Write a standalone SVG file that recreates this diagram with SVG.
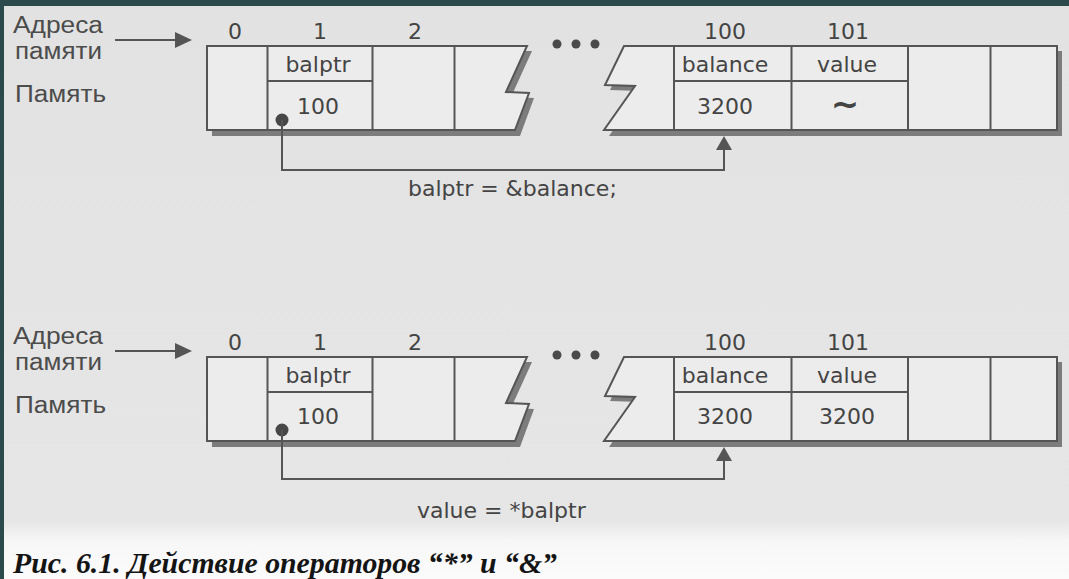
<svg xmlns="http://www.w3.org/2000/svg" width="1069" height="579" viewBox="0 0 1069 579">
  <defs>
    <linearGradient id="pageGrad" x1="0" y1="0" x2="0" y2="1">
      <stop offset="0" stop-color="#e2e2e2"/>
      <stop offset="0.9" stop-color="#e6e6e6"/>
      <stop offset="0.935" stop-color="#f7f7f7"/>
      <stop offset="1" stop-color="#fbfbfb"/>
    </linearGradient>
    <style>
      .lbl { font-family: "Liberation Sans", Arial, sans-serif; font-size: 23px; fill: #4c4c4c; }
      .txt { font-family: "DejaVu Sans", "Open Sans", sans-serif; font-size: 22px; fill: #444444; text-anchor: middle; }
      .expr { font-family: "DejaVu Sans", "Open Sans", sans-serif; font-size: 22px; fill: #444444; }
      .cap { font-family: "Liberation Serif", "Times New Roman", serif; font-size: 29px; font-weight: bold; font-style: italic; fill: #141414; }
      .box { fill: #ececec; stroke: #555555; stroke-width: 2; stroke-linejoin: miter; }
      .div { stroke: #555555; stroke-width: 2; fill: none; }
      .conn { stroke: #555555; stroke-width: 2; fill: none; }
      .head { fill: #555555; }
      .dot { fill: #474747; }
      .dots { fill: #4a4a4a; }
    </style>
  </defs>

  <!-- page background -->
  <rect x="0" y="0" width="1069" height="579" fill="url(#pageGrad)"/>
  <rect x="0" y="0" width="1069" height="6" fill="#2c4a4b"/>
  <rect x="0" y="0" width="4" height="579" fill="#2c4a4b"/>

  <!-- ===================== Diagram 1 ===================== -->
  <g id="labels-1">
    <text class="lbl" x="13" y="33" textLength="90" lengthAdjust="spacingAndGlyphs">Адреса</text>
    <text class="lbl" x="15" y="59" textLength="87" lengthAdjust="spacingAndGlyphs">памяти</text>
    <text class="lbl" x="15" y="102" textLength="91" lengthAdjust="spacingAndGlyphs">Память</text>
  </g>

  <g id="addresses-1">
    <text class="txt" x="235" y="39">0</text>
    <text class="txt" x="320" y="39">1</text>
    <text class="txt" x="415" y="39">2</text>
    <text class="txt" x="725" y="39">100</text>
    <text class="txt" x="848" y="39">101</text>
  </g>

  <g id="memory-1-left">
    <path fill="#7c7c7c" d="M212,51 H532 L511,97 L534,98 L520,136 H212 Z"/>
    <path class="box" d="M207,46 H527 L506,92 L529,93 L515,130 H207 Z"/>
    <line class="div" x1="267.5" y1="46" x2="267.5" y2="130"/>
    <line class="div" x1="372.5" y1="46" x2="372.5" y2="130"/>
    <line class="div" x1="454.5" y1="46" x2="454.5" y2="130"/>
  </g>
  <g id="cell-balptr-1">
    <line class="div" x1="267.5" y1="81" x2="372.5" y2="81"/>
    <text class="txt" x="318" y="72">balptr</text>
    <text class="txt" x="318" y="114">100</text>
  </g>

  <g id="ellipsis-1">
    <circle class="dots" cx="557" cy="44" r="4.5"/>
    <circle class="dots" cx="576" cy="44" r="4.5"/>
    <circle class="dots" cx="595" cy="44" r="4.5"/>
  </g>

  <g id="memory-1-right">
    <path fill="#7c7c7c" d="M629,51 H1062 V136 H609 L640,91 L610,90 Z"/>
    <path class="box" d="M624,46 H1057 V130 H604 L635,86 L605,85 Z"/>
    <line class="div" x1="674" y1="46" x2="674" y2="130"/>
    <line class="div" x1="791.5" y1="46" x2="791.5" y2="130"/>
    <line class="div" x1="908" y1="46" x2="908" y2="130"/>
    <line class="div" x1="990.5" y1="46" x2="990.5" y2="130"/>
    <line class="div" x1="674" y1="81" x2="908" y2="81"/>
  </g>
  <g id="cell-balance-1">
    <text class="txt" x="725" y="72">balance</text>
    <text class="txt" x="725" y="114">3200</text>
  </g>
  <g id="cell-value-1">
    <text class="txt" x="847" y="72">value</text>
    <text class="txt" x="845" y="116" style="font-size:34px;font-weight:bold">~</text>
  </g>

  <text id="expr-1" class="expr" x="408" y="196">balptr = &amp;balance;</text>

  <!-- ===================== Diagram 2 ===================== -->
  <g id="labels-2">
    <text class="lbl" x="13" y="344" textLength="90" lengthAdjust="spacingAndGlyphs">Адреса</text>
    <text class="lbl" x="15" y="370" textLength="87" lengthAdjust="spacingAndGlyphs">памяти</text>
    <text class="lbl" x="15" y="413" textLength="91" lengthAdjust="spacingAndGlyphs">Память</text>
  </g>

  <g id="addresses-2">
    <text class="txt" x="235" y="350">0</text>
    <text class="txt" x="320" y="350">1</text>
    <text class="txt" x="415" y="350">2</text>
    <text class="txt" x="725" y="350">100</text>
    <text class="txt" x="848" y="350">101</text>
  </g>

  <g id="memory-2-left">
    <path fill="#7c7c7c" d="M212,362 H532 L511,408 L534,409 L520,447 H212 Z"/>
    <path class="box" d="M207,357 H527 L506,403 L529,404 L515,441 H207 Z"/>
    <line class="div" x1="267.5" y1="357" x2="267.5" y2="441"/>
    <line class="div" x1="372.5" y1="357" x2="372.5" y2="441"/>
    <line class="div" x1="454.5" y1="357" x2="454.5" y2="441"/>
  </g>
  <g id="cell-balptr-2">
    <line class="div" x1="267.5" y1="392" x2="372.5" y2="392"/>
    <text class="txt" x="318" y="383">balptr</text>
    <text class="txt" x="318" y="424">100</text>
  </g>

  <g id="ellipsis-2">
    <circle class="dots" cx="557" cy="355" r="4.5"/>
    <circle class="dots" cx="576" cy="355" r="4.5"/>
    <circle class="dots" cx="595" cy="355" r="4.5"/>
  </g>

  <g id="memory-2-right">
    <path fill="#7c7c7c" d="M629,362 H1062 V447 H609 L640,402 L610,401 Z"/>
    <path class="box" d="M624,357 H1057 V441 H604 L635,397 L605,396 Z"/>
    <line class="div" x1="674" y1="357" x2="674" y2="441"/>
    <line class="div" x1="791.5" y1="357" x2="791.5" y2="441"/>
    <line class="div" x1="908" y1="357" x2="908" y2="441"/>
    <line class="div" x1="990.5" y1="357" x2="990.5" y2="441"/>
    <line class="div" x1="674" y1="392" x2="908" y2="392"/>
  </g>
  <g id="cell-balance-2">
    <text class="txt" x="725" y="383">balance</text>
    <text class="txt" x="725" y="424">3200</text>
  </g>
  <g id="cell-value-2">
    <text class="txt" x="847" y="383">value</text>
    <text class="txt" x="847" y="424">3200</text>
  </g>

  <text id="expr-2" class="expr" x="417" y="518">value = *balptr</text>

  <!-- ===================== Connectors ===================== -->
  <g id="connectors">
    <line class="conn" x1="115" y1="40" x2="178" y2="40"/>
    <polygon class="head" points="175,32 192,40 175,48"/>
    <circle class="dot" cx="282" cy="120" r="6.5"/>
    <path class="conn" d="M282,120 V170 H724 V148"/>
    <polygon class="head" points="716,150 724,136 732,150"/>

    <line class="conn" x1="115" y1="351" x2="178" y2="351"/>
    <polygon class="head" points="175,343 192,351 175,359"/>
    <circle class="dot" cx="282" cy="430" r="6.5"/>
    <path class="conn" d="M282,430 V479 H724 V459"/>
    <polygon class="head" points="716,461 724,447 732,461"/>
  </g>

  <!-- caption -->
  <text id="caption" class="cap" x="13" y="573" textLength="544" lengthAdjust="spacingAndGlyphs">Рис. 6.1. Действие операторов “*” и “&amp;”</text>
</svg>
